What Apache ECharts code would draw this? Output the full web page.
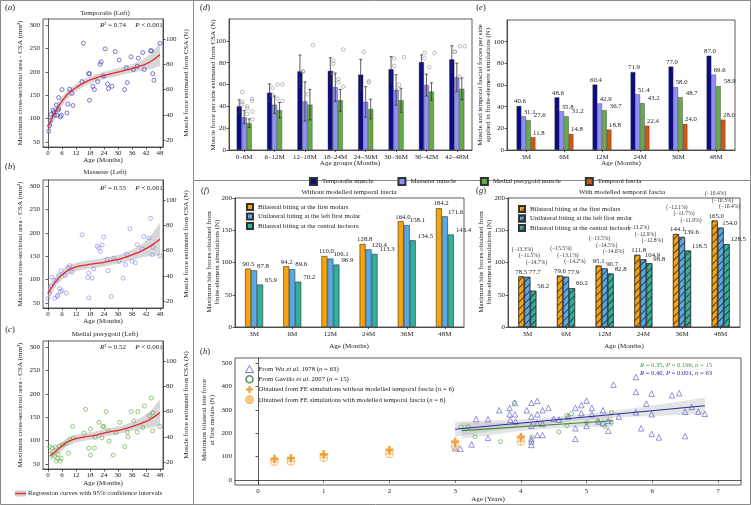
<!DOCTYPE html>
<html><head><meta charset="utf-8">
<script src="https://cdn.jsdelivr.net/npm/echarts@6/dist/echarts.min.js"></script>
<style>html,body{margin:0;padding:0;background:#fff}#c{width:751px;height:505px}</style>
</head><body><div id="c"></div>
<script>
// ================= DATA =================
const specificTension = 0.37;            // N per mm² (right axes of a–c)
const csaTicks = [50, 100, 150, 200, 250, 300];
const forceTicks = [20, 40, 60, 80, 100];
const ageTicks = [0, 6, 12, 18, 24, 30, 36, 42, 48];
const yearTicks = [0, 1, 2, 3, 4, 5, 6, 7];
const biteTicks = [0, 100, 200, 300, 400, 500];

// (a) Temporalis [age months, CSA mm²]
const temporalisPts = [[0.3,73],[0.7,85],[1,96],[1.3,109],[2.1,118],[2.4,114],[2.8,107],[3.6,129],[3.8,107],[4.3,118],[4.6,145],[4.6,121],[5.3,104],[5.7,107],[6,162],[8.1,112],[8.5,131],[9.3,163],[10.3,154],[10.7,128],[14.5,179],[15.2,261],[17.4,196],[17.8,196],[17.8,139],[19.2,169],[19.9,162],[21.3,179],[22.4,216],[22.8,221],[23.8,191],[24.5,249],[25.5,174],[25.9,164],[27.4,169],[28.8,243],[30.5,225],[32.8,162],[33.5,209],[34,177],[35.6,232],[36.6,205],[38.3,212],[38.7,229],[40.6,241],[41.3,205],[44,245],[44.4,245],[44.9,196],[45.4,182],[48,261]];
const fitAges = [0,4,8,12,16,20,24,28,32,36,40,44,48];
const temporalisFit  = [82,122,150,166,178,186,192,197,202,207,213,222,237];
const temporalisHalf = [15,10,9,8,8,8,8,8,8,9,11,16,25];
// (b) Masseter
const masseterPts = [[0,60],[0.7,71],[1.3,87],[1.7,105],[2.4,99],[2.9,60],[3.6,98],[3.9,64],[4.2,66],[4.6,110],[5,81],[5.3,74],[5.7,119],[6,76],[7.4,109],[7.9,71],[8.6,126],[9.3,130],[10.3,116],[14.6,196],[17,104],[17.5,114],[17.5,61],[18.9,103],[19.6,123],[21.1,171],[21.8,168],[22.5,160],[23.2,174],[23.9,191],[25.4,143],[25.8,119],[27.1,64],[28.2,146],[30.4,139],[32.2,103],[33.2,132],[33.7,154],[35.1,209],[36.1,139],[37.5,136],[38.3,175],[40.4,166],[41.1,192],[43.3,189],[44,231],[44.7,153],[45.1,169],[48,151]];
const masseterFit  = [70,100,118,127,131,134,137,141,146,153,161,172,186];
const masseterHalf = [12,10,10,9,9,9,9,9,10,11,14,21,35];
// (c) Medial pterygoid
const pterygoidPts = [[0.7,87],[1.1,71],[1.8,84],[2.8,67],[3.2,86],[3.5,56],[4.2,62],[4.2,71],[4.9,89],[5.3,56],[5.6,62],[6.3,91],[7.7,94],[8.8,73],[9.5,103],[10.5,130],[10.9,106],[15.4,116],[16.1,167],[17.5,84],[19.9,84],[18.2,69],[18.2,125],[20.3,107],[21.9,139],[23.1,106],[23.5,130],[24,130],[24.9,162],[25.9,121],[26.2,99],[28,69],[29.1,117],[30.8,139],[32.9,87],[34,118],[34.3,108],[35.7,162],[36.8,142],[38.2,118],[38.5,162],[40.6,128],[41.3,174],[43.6,153],[44.3,191],[44.8,121],[45,159],[48,130]];
const pterygoidFitAges = [1,4,8,12,16,20,24,28,32,36,40,44,48];
const pterygoidFit  = [68,80,96,104,108,111,116,120,124,130,137,146,160];
const pterygoidHalf = [12,9,8,8,8,8,8,8,8,9,12,18,28];

// (d) muscle force per age group
const dCats = ['0–6M','6–12M','12–18M','18–24M','24–30M','30–36M','36–42M','42–48M'];
const dTemporalis   = [40, 52.5, 72, 72.5, 69, 74, 80.5, 83];
const dTemporalisSD = [6, 8, 15, 12, 14, 11.5, 6.5, 12.5];
const dMasseter     = [30, 41.5, 44.5, 57.5, 44, 55, 59.5, 66.5];
const dMasseterSD   = [6, 8, 18, 13, 14, 14, 10, 13];
const dPterygoid    = [24.5, 36.5, 41.5, 45.5, 37.5, 45.5, 53.5, 56];
const dPterygoidSD  = [4, 7, 14, 10, 9, 11, 8, 10];
const dTemporalisObs = [[53,44,42],[57,50],[72,72],[82,79,70],[90],[84,77],[84,89],[90,90]];
const dMasseterObs   = [[40,38,33],[47,60],[51],[65,62],[63,62],[60,56],[76],[67,95]];
const dPterygoidObs  = [[47,45,35,28],[60,45],[96],[92,58],[],[85],[89],[95]];

// (e) forces applied in FE simulations
const eCats = ['3M','6M','12M','24M','36M','48M'];
const eTemporalis = [40.6, 48.6, 60.4, 71.9, 77.0, 87.0];
const eMasseter   = [31.1, 35.8, 42.9, 51.4, 58.0, 69.6];
const ePterygoid  = [27.6, 31.2, 36.7, 43.2, 48.7, 58.9];
const eFascia     = [11.8, 14.8, 18.8, 22.4, 24.0, 28.0];

// (f) without / (g) with modelled temporal fascia
const fBilateralMolars = [90.5, 94.2, 110.0, 128.8, 164.0, 184.2];
const fUnilateralMolar = [87.8, 89.6, 106.1, 120.4, 158.1, 171.6];
const fIncisors        = [65.9, 70.2, 96.9, 113.3, 134.5, 143.4];
const gBilateralMolars = [78.5, 79.6, 95.1, 111.8, 144.1, 165.0];
const gUnilateralMolar = [77.7, 77.9, 90.7, 104.9, 139.6, 154.0];
const gIncisors        = [56.2, 60.2, 82.8, 98.8, 118.5, 128.5];
const biteNames = ['Bilateral biting at the first molars','Unilateral biting at the left first molar','Bilateral biting at the central incisors'];

// (h) bite force vs age
const feAges = [0.25, 0.5, 1, 2, 3, 4];
const wuPts = [[3.0,136],[3.08,134],[3.25,152],[3.32,260],[3.5,260],[3.5,180],[3.67,298],[3.83,308],[3.83,281],[3.84,257],[3.91,281],[3.91,329],[4.09,298],[4.16,330],[4.16,271],[4.16,232],[4.16,176],[4.16,150],[4.16,165],[4.25,338],[4.25,281],[4.25,243],[4.25,192],[4.33,298],[4.33,192],[4.42,308],[4.5,261],[4.72,271],[4.83,308],[4.83,221],[4.83,176],[4.92,320],[4.92,286],[5.0,339],[5.0,231],[5.08,308],[5.08,281],[5.25,298],[5.25,243],[5.33,211],[5.41,407],[5.49,271],[5.75,440],[5.75,376],[5.75,289],[5.83,221],[5.91,326],[5.99,369],[5.99,281],[5.99,197],[6.1,182],[6.3,362],[6.41,371],[6.5,188],[6.5,292],[6.6,312],[6.7,292],[6.8,283],[3.92,250],[4.58,258],[5.18,250],[4.33,240],[5.33,253]];
const gaviaoPts = [[3.09,227],[3.2,227],[3.3,185],[3.69,164],[3.9,331],[4.17,185],[4.58,206],[4.7,276],[4.77,283],[4.7,232],[5.0,245],[5.17,252],[5.28,229],[5.38,246],[5.38,289]];
const wuBandX = [3.0, 3.5, 4.0, 4.5, 5.0, 5.5, 6.0, 6.5, 6.8];
const wuFit   = [217, 230, 243, 257, 270, 283, 296, 309, 317];
const wuHalf  = [32, 24, 17, 13, 12, 15, 22, 30, 35];
const gavBandX = [3.1, 3.5, 4.0, 4.5, 5.0, 5.4];
const gavFit   = [211, 218, 227, 236, 246, 253];
const gavHalf  = [35, 27, 18, 15, 20, 27];

// ================= STYLE / BUILD =================
const F = 'Liberation Serif';
const INK = '#222';
const CLEAR = 'rgba(255,255,255,0)';
const csaRange = [39.3, 312.8];
const ageRange = [-2.14, 49.3];

const chart = echarts.init(document.getElementById('c'), null, {renderer: 'canvas'});

const axLine = {show: true, lineStyle: {color: '#333', width: 0.8}};
const axTick = (extra) => Object.assign({show: true, length: 2.5, lineStyle: {color: '#333', width: 0.8}}, extra || {});
const axLab = (extra) => Object.assign({fontFamily: F, fontSize: 7, color: INK, margin: 3}, extra || {});
const noSplit = {show: false};
const gridBox = (l, t, w, h) => ({left: l, top: t, width: w, height: h, show: true, borderColor: '#333', borderWidth: 0.8, backgroundColor: 'transparent'});

const grids = [
  gridBox(43, 19, 120, 128),   // a
  gridBox(43, 180, 120, 128),  // b
  gridBox(43, 341, 120, 128),  // c
  gridBox(229, 19, 243, 131),  // d
  gridBox(507, 20, 228, 130),  // e
  gridBox(235, 198, 229, 129), // f
  gridBox(508, 198, 232, 129), // g
  gridBox(235, 358, 506, 127)  // h
];

const ageAxis = (gi) => ({type: 'value', gridIndex: gi, min: ageRange[0], max: ageRange[1], axisLine: axLine,
  axisTick: axTick({customValues: ageTicks}), axisLabel: axLab({customValues: ageTicks}), splitLine: noSplit});
const catAxis = (gi, cats) => ({type: 'category', gridIndex: gi, data: cats, axisLine: axLine,
  axisTick: axTick({alignWithLabel: true, length: 2, interval: 0}), axisLabel: axLab({margin: 4, interval: 0}), splitLine: noSplit});
const csaAxis = (gi) => ({type: 'value', gridIndex: gi, min: csaRange[0], max: csaRange[1], axisLine: axLine,
  axisTick: axTick({customValues: csaTicks}), axisLabel: axLab({customValues: csaTicks}), splitLine: noSplit});
const forceAxis = (gi) => ({type: 'value', gridIndex: gi, position: 'right', min: csaRange[0] * specificTension, max: csaRange[1] * specificTension,
  axisLine: axLine, axisTick: axTick({customValues: forceTicks}), axisLabel: axLab({customValues: forceTicks}), splitLine: noSplit});

const xAxes = [ageAxis(0), ageAxis(1), ageAxis(2), catAxis(3, dCats), catAxis(4, eCats), catAxis(5, eCats), catAxis(6, eCats),
  {type: 'value', gridIndex: 7, min: -0.35, max: 7.35, axisLine: axLine, axisTick: axTick({customValues: yearTicks}),
   axisLabel: axLab({customValues: yearTicks}), splitLine: noSplit}];
const yAxes = [csaAxis(0), forceAxis(0), csaAxis(1), forceAxis(1), csaAxis(2), forceAxis(2),
  {type: 'value', gridIndex: 3, min: 0, max: 120, interval: 20, axisLine: axLine, axisTick: axTick(), axisLabel: axLab({showMaxLabel: false}), splitLine: noSplit},
  {type: 'value', gridIndex: 4, min: 0, max: 120, interval: 20, axisLine: axLine, axisTick: axTick(), axisLabel: axLab({showMaxLabel: false}), splitLine: noSplit},
  {type: 'value', gridIndex: 5, min: 0, max: 200, interval: 50, axisLine: axLine, axisTick: axTick(), axisLabel: axLab(), splitLine: noSplit},
  {type: 'value', gridIndex: 6, min: 0, max: 200, interval: 50, axisLine: axLine, axisTick: axTick(), axisLabel: axLab(), splitLine: noSplit},
  {type: 'value', gridIndex: 7, min: -21, max: 521, axisLine: axLine, axisTick: axTick({customValues: biteTicks}),
   axisLabel: axLab({customValues: biteTicks}), splitLine: noSplit}];

// ---------- series builders ----------
function band(xi, yi, xs, fit, half, fill) {
  return {type: 'custom', xAxisIndex: xi, yAxisIndex: yi, silent: true, z: 1, data: [[xs[0], fit[0]]],
    renderItem: (params, api) => {
      const up = xs.map((x, i) => api.coord([x, fit[i] + half[i]]));
      const lo = xs.map((x, i) => api.coord([x, fit[i] - half[i]])).reverse();
      return {type: 'polygon', shape: {points: up.concat(lo)}, style: {fill: fill}};
    }};
}
function fitLine(xi, yi, xs, fit, color, width, smooth) {
  return {type: 'line', xAxisIndex: xi, yAxisIndex: yi, data: xs.map((x, i) => [x, fit[i]]), smooth: smooth,
    showSymbol: false, silent: true, z: 4, lineStyle: {color: color, width: width}};
}
function pts(xi, yi, data, color, size) {
  return {type: 'scatter', xAxisIndex: xi, yAxisIndex: yi, data: data, symbol: 'circle', symbolSize: size || 4,
    z: 3, silent: true, itemStyle: {color: CLEAR, borderColor: color, borderWidth: 0.8}};
}

const series = [];
const csaPanels = [
  [0, 0, temporalisPts, fitAges, temporalisFit, temporalisHalf, '#2f2fae'],
  [1, 2, masseterPts, fitAges, masseterFit, masseterHalf, '#8585ea'],
  [2, 4, pterygoidPts, pterygoidFitAges, pterygoidFit, pterygoidHalf, '#5aa83a']
];
csaPanels.forEach(([xi, yi, p, xs, fit, half, col]) => {
  series.push(band(xi, yi, xs, fit, half, 'rgba(175,175,175,0.5)'));
  series.push(pts(xi, yi, p, col, 4));
  series.push(fitLine(xi, yi, xs, fit, '#e8262b', 1.3, true));
});

// (d)
const muscleNames = ['Temporalis muscle', 'Masseter muscle', 'Medial pterygoid muscle', 'Temporal fascia'];
const muscleColors = ['#0b0b85', '#8f8ff5', '#64ad45', '#cc5a12'];
const dMeans = [dTemporalis, dMasseter, dPterygoid];
const dSDs = [dTemporalisSD, dMasseterSD, dPterygoidSD];
const dObs = [dTemporalisObs, dMasseterObs, dPterygoidObs];
const dBarW = 5;
dMeans.forEach((m, k) => {
  series.push({type: 'bar', name: muscleNames[k], xAxisIndex: 3, yAxisIndex: 6, data: m, barWidth: dBarW, barGap: '0%',
    itemStyle: {color: muscleColors[k], borderColor: '#333', borderWidth: 0.4}});
});
dMeans.forEach((m, k) => {
  const off = (k - 1) * dBarW;
  series.push({type: 'custom', xAxisIndex: 3, yAxisIndex: 6, silent: true, z: 5,
    data: m.map((v, i) => [i, v, dSDs[k][i]]),
    renderItem: (params, api) => {
      const i = api.value(0), v = api.value(1), s = api.value(2);
      const a = api.coord([i, v + s]), b = api.coord([i, v - s]);
      const x = a[0] + off;
      const st = {stroke: '#333', lineWidth: 0.8};
      return {type: 'group', children: [
        {type: 'line', shape: {x1: x, y1: a[1], x2: x, y2: b[1]}, style: st},
        {type: 'line', shape: {x1: x - 1.5, y1: a[1], x2: x + 1.5, y2: a[1]}, style: st},
        {type: 'line', shape: {x1: x - 1.5, y1: b[1], x2: x + 1.5, y2: b[1]}, style: st}]};
    }});
  const flat = [];
  dObs[k].forEach((arr, i) => arr.forEach(v => flat.push([i, v])));
  series.push({type: 'scatter', xAxisIndex: 3, yAxisIndex: 6, data: flat, symbol: 'circle', symbolSize: 3.6,
    symbolOffset: [off + 3, 0], z: 6, silent: true, itemStyle: {color: CLEAR, borderColor: '#8a8a8a', borderWidth: 0.7}});
});

// (e)
const eVals = [eTemporalis, eMasseter, ePterygoid, eFascia];
const eLab = [['center', 1], ['left', 0], ['left', 5.5], ['left', 0]];
eVals.forEach((v, k) => {
  series.push({type: 'bar', name: muscleNames[k], xAxisIndex: 4, yAxisIndex: 7, data: v, barWidth: 4.7, barGap: '0%',
    itemStyle: {color: muscleColors[k], borderColor: '#333', borderWidth: 0.4},
    label: {show: true, position: 'top', distance: 1, align: eLab[k][0], offset: [eLab[k][1], 0], fontFamily: F, fontSize: 6.8, color: INK,
      formatter: p => p.value.toFixed(1)}});
});

// (f) & (g)
const biteColors = ['#f7a30b', '#58a9e6', '#33b09b'];
const fLab = [-5.5, 3, 5];
const gLab = [-6, 1.5, 4];
[fBilateralMolars, fUnilateralMolar, fIncisors].forEach((v, k) => {
  series.push({type: 'bar', name: biteNames[k], xAxisIndex: 5, yAxisIndex: 8, data: v, barWidth: 6, barGap: '0%',
    itemStyle: {color: biteColors[k], borderColor: '#333', borderWidth: 0.6},
    label: {show: true, position: 'top', distance: 1, align: 'left', offset: [fLab[k], 0], fontFamily: F, fontSize: 6.8, color: INK,
      formatter: p => p.value.toFixed(1)}});
});
const hatch = {symbol: 'rect', symbolSize: 1, dashArrayX: [1, 0], dashArrayY: [1, 3.5], rotation: -Math.PI / 4, color: 'rgba(30,30,30,0.75)'};
const gNames = biteNames.map(n => n + '\u200b');
const fSets = [fBilateralMolars, fUnilateralMolar, fIncisors];
const gSets = [gBilateralMolars, gUnilateralMolar, gIncisors];
gSets.forEach((v, k) => {
  series.push({type: 'bar', name: gNames[k], xAxisIndex: 6, yAxisIndex: 9, data: v, barWidth: 6, barGap: '0%',
    itemStyle: {color: biteColors[k], borderColor: '#333', borderWidth: 0.6, decal: hatch},
    label: {show: true, position: 'top', distance: 1, align: 'left', offset: [gLab[k], 0], fontFamily: F, fontSize: 6.8, color: INK,
      formatter: p => p.value.toFixed(1)}});
});
const pct = (g, f) => '(\u2212' + ((1 - g / f) * 100).toFixed(1) + '%)';
series.push({type: 'custom', xAxisIndex: 6, yAxisIndex: 9, silent: true, z: 6,
  data: gBilateralMolars.map((v, i) => [i, v]),
  renderItem: (params, api) => {
    const i = params.dataIndex;
    const top = api.coord([i, gBilateralMolars[i]]);
    const spec = [[-5, -27], [2, -20.5], [9, -14]];
    return {type: 'group', children: spec.map(([dx, dy], k) => ({type: 'text', x: top[0] + dx, y: top[1] + dy,
      style: {text: pct(gSets[k][i], fSets[k][i]), fontFamily: F, fontSize: 5.6, fill: '#333',
        align: 'center', verticalAlign: 'middle', textAlign: 'center', textVerticalAlign: 'middle'}}))};
  }});

// (h)
series.push(band(7, 10, wuBandX, wuFit, wuHalf, 'rgba(165,165,165,0.3)'));
series.push(band(7, 10, gavBandX, gavFit, gavHalf, 'rgba(165,165,165,0.3)'));
series.push({type: 'scatter', name: 'wu', xAxisIndex: 7, yAxisIndex: 10, data: wuPts, symbol: 'triangle', symbolSize: 5.5, z: 3,
  itemStyle: {color: CLEAR, borderColor: '#5656c4', borderWidth: 0.8}});
series.push({type: 'scatter', name: 'gav', xAxisIndex: 7, yAxisIndex: 10, data: gaviaoPts, symbol: 'circle', symbolSize: 4, z: 3,
  itemStyle: {color: CLEAR, borderColor: '#4f9f45', borderWidth: 0.8}});
series.push(fitLine(7, 10, [wuBandX[0], wuBandX[wuBandX.length - 1]], [wuFit[0], wuFit[wuFit.length - 1]], '#2a2aa8', 1.1, false));
series.push(fitLine(7, 10, [gavBandX[0], gavBandX[gavBandX.length - 1]], [gavFit[0], gavFit[gavFit.length - 1]], '#3b8e3b', 1.1, false));
series.push({type: 'scatter', name: 'feWith', xAxisIndex: 7, yAxisIndex: 10, data: feAges.map((a, i) => [a, gBilateralMolars[i]]),
  symbol: 'path://M5,0.5A4.5,4.5,0,1,1,4.99,0.5Z M5,0.5V9.5 M0.5,5H9.5', symbolSize: 7.5, z: 4,
  itemStyle: {color: CLEAR, borderColor: '#f6b04e', borderWidth: 1.1}});
series.push({type: 'scatter', name: 'feNo', xAxisIndex: 7, yAxisIndex: 10, data: feAges.map((a, i) => [a, fBilateralMolars[i]]),
  symbol: 'path://M3.3,0H6.7V3.3H10V6.7H6.7V10H3.3V6.7H0V3.3H3.3Z', symbolSize: 8, z: 5,
  itemStyle: {color: '#f1901f'}});

// ---------- legends ----------
const legText = {fontFamily: F, fontSize: 6.8, color: INK};
const hLegendText = {
  wu: '{n|From Wu }{i|et al.}{n| 1978 (}{i|n}{n| = 63)}',
  gav: '{n|From Gavião }{i|et al.}{n| 2007 (}{i|n}{n| = 15)}',
  feNo: '{n|Obtained from FE simulations without modelled temporal fascia (}{i|n}{n| = 6)}',
  feWith: '{n|Obtained from FE simulations with modelled temporal fascia (}{i|n}{n| = 6)}'
};
const legends = [
  {data: muscleNames, left: 304, top: 172, itemWidth: 7, itemHeight: 7, itemGap: 24, icon: 'rect', selectedMode: false, textStyle: legText},
  {data: biteNames, left: 241, top: 198, orient: 'vertical', itemWidth: 6, itemHeight: 6, itemGap: 1.5, icon: 'rect', selectedMode: false,
   textStyle: Object.assign({lineHeight: 8}, legText)},
  {data: gNames, left: 513, top: 200, orient: 'vertical', itemWidth: 6, itemHeight: 6, itemGap: 1.5, icon: 'rect', selectedMode: false,
   textStyle: Object.assign({lineHeight: 8}, legText)},
  {data: [{name: 'wu', itemStyle: {borderColor: '#5656c4', borderWidth: 1}}, {name: 'gav', itemStyle: {borderColor: '#2e7d2e', borderWidth: 1.6}}, 'feNo', 'feWith'],
   left: 240, top: 360, orient: 'vertical', itemWidth: 8, itemHeight: 7, itemGap: 1.9, selectedMode: false,
   formatter: n => hLegendText[n],
   textStyle: Object.assign({lineHeight: 8, rich: {n: legText, i: Object.assign({fontStyle: 'italic'}, legText)}}, legText)}
];

// ---------- graphic texts ----------
const rn = (sz, extra) => Object.assign({fontFamily: F, fontSize: sz, color: INK}, extra || {});
function T(x, y, text, o) {
  o = o || {};
  const sz = o.size || 7;
  return {type: 'text', x: x, y: y, rotation: o.rot || 0, silent: true, z: 100,
    style: {text: text, fontFamily: F, fontSize: sz, fontStyle: o.fstyle || 'normal', fill: o.color || INK,
      align: o.align || 'center', verticalAlign: 'middle', textAlign: o.align || 'center', textVerticalAlign: 'middle',
      lineHeight: o.lh || (sz + 2),
      rich: {n: rn(sz, {color: o.color || INK}), i: rn(sz, {fontStyle: 'italic', color: o.color || INK})}}};
}
const letter = (x, y, l) => T(x, y, '{n|(}{i|' + l + '}{n|)}', {size: 8.5});
const UP = Math.PI / 2;
const g = [];
g.push({type: 'rect', shape: {x: 0.5, y: 0.5, width: 750, height: 504}, style: {fill: 'none', stroke: '#8a8a8a', lineWidth: 1}, silent: true});
g.push({type: 'line', shape: {x1: 193.5, y1: 0, x2: 193.5, y2: 505}, style: {stroke: '#8a8a8a', lineWidth: 1}, silent: true});
g.push({type: 'line', shape: {x1: 193, y1: 180.5, x2: 751, y2: 180.5}, style: {stroke: '#8a8a8a', lineWidth: 1}, silent: true});
g.push(letter(10, 8, 'a'), letter(10, 167, 'b'), letter(10, 330, 'c'), letter(205, 8, 'd'), letter(481, 8, 'e'),
  letter(205, 191, 'f'), letter(481, 191, 'g'), letter(205, 352, 'h'));
[['Temporalis (Left)', 13, 83, 160, '0.74', 25], ['Masseter (Left)', 172, 244, 321, '0.55', 188], ['Medial pterygoid (Left)', 334, 405, 483, '0.52', 347]]
  .forEach(([title, ty, my, by, r2, sy]) => {
    g.push(T(105, ty, title));
    g.push(T(20, my, 'Maximum cross-sectional area - CSA (mm²)', {rot: UP}));
    g.push(T(186, my, 'Muscle force estimated from CSA (N)', {rot: UP}));
    g.push(T(103, by, 'Age (Months)'));
    g.push(T(113, sy, '{i|R}{n|² = ' + r2 + '}'));
    g.push(T(149, sy, '{i|P}{n| < 0.001}'));
  });
g.push({type: 'rect', shape: {x: 15, y: 490.5, width: 11, height: 6}, style: {fill: '#cfcfcf'}, silent: true});
g.push({type: 'line', shape: {x1: 15, y1: 493.5, x2: 26, y2: 493.5}, style: {stroke: '#e8262b', lineWidth: 1.3}, silent: true});
g.push(T(28, 493.5, 'Regression curves with 95% confidence intervals', {align: 'left', size: 6.8}));
g.push(T(213, 85, 'Muscle force per side estimated from CSA (N)', {rot: UP}));
g.push(T(350, 163, 'Age groups (Months)'));
g.push(T(484, 85, 'Muscle and temporal fascial forces per side\napplied in finite-element simulations (N)', {rot: UP, lh: 8.5}));
g.push(T(621, 163, 'Age (Months)'));
g.push(T(349, 192, 'Without modelled temporal fascia'));
g.push(T(622, 192, 'With modelled temporal fascia'));
g.push(T(213, 262, 'Maximum bite forces obtained from\nfinite-element simulations (N)', {rot: UP, lh: 8.5}));
g.push(T(349, 346, 'Age (Months)'));
g.push(T(485, 262, 'Maximum bite forces obtained from\nfinite-element simulations (N)', {rot: UP, lh: 8.5}));
g.push(T(624, 346, 'Age (Months)'));
g.push(T(208, 420, 'Maximum bilateral bite force\nat first molars (N)', {rot: UP, lh: 8.5}));
g.push(T(488, 499, 'Age (Years)'));
g.push(T(712, 365, '{i|R}{n| = 0.35, }{i|P}{n| = 0.196, }{i|n}{n| = 15}', {align: 'right', size: 6.6, color: '#3d9a4a'}));
g.push(T(712, 373.5, '{i|R}{n| = 0.40, }{i|P}{n| = 0.001, }{i|n}{n| = 63}', {align: 'right', size: 6.6, color: '#2a2aa8'}));

chart.setOption({
  animation: false,
  textStyle: {fontFamily: F},
  grid: grids,
  xAxis: xAxes,
  yAxis: yAxes,
  legend: legends,
  graphic: {elements: g},
  series: series
});
</script>
</body></html>
